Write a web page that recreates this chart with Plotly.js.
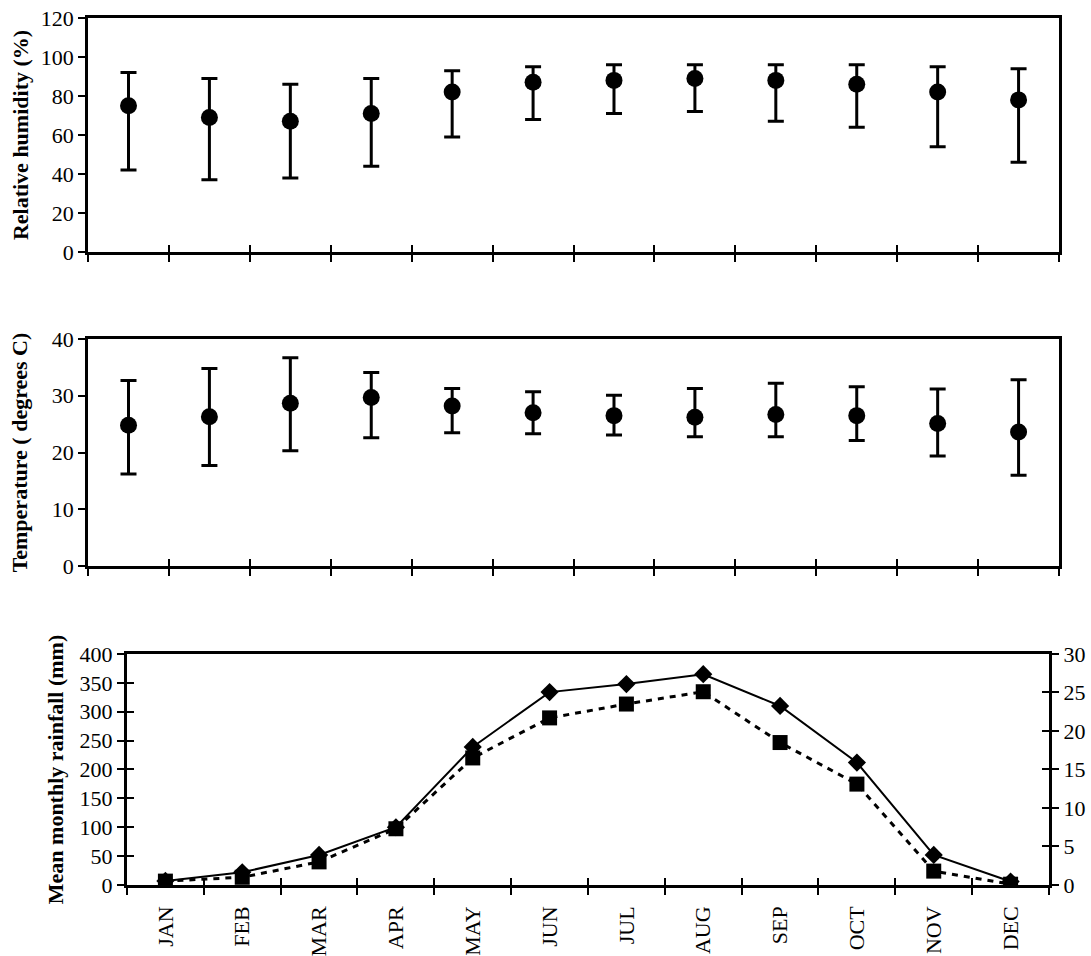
<!DOCTYPE html>
<html>
<head>
<meta charset="utf-8">
<script src="https://cdn.plot.ly/plotly-3.0.1.min.js"></script>
<style>
  html, body { margin: 0; padding: 0; background: #ffffff; }
  #chart { width: 1091px; height: 956px; }
</style>
</head>
<body>
<div id="chart"></div>
<script>
// Monthly climate summary: humidity, temperature, rainfall
const months = ['JAN', 'FEB', 'MAR', 'APR', 'MAY', 'JUN', 'JUL', 'AUG', 'SEP', 'OCT', 'NOV', 'DEC'];

// Relative humidity (%): mean with monthly minimum and maximum
const humidityMean = [75, 69, 67, 71, 82, 87, 88, 89, 88, 86, 82, 78];
const humidityHigh = [92, 89, 86, 89, 93, 95, 96, 96, 96, 96, 95, 94];
const humidityLow  = [42, 37, 38, 44, 59, 68, 71, 72, 67, 64, 54, 46];

// Air temperature (degrees C): mean with monthly minimum and maximum
const tempMean = [24.8, 26.3, 28.7, 29.7, 28.2, 27.0, 26.5, 26.2, 26.7, 26.5, 25.1, 23.6];
const tempHigh = [32.7, 34.8, 36.7, 34.1, 31.3, 30.7, 30.1, 31.3, 32.2, 31.6, 31.2, 32.8];
const tempLow  = [16.2, 17.7, 20.3, 22.6, 23.5, 23.3, 23.1, 22.8, 22.8, 22.1, 19.4, 16.0];

// Mean monthly rainfall (mm, left axis) and rainy days (right axis)
const rainfall = [7, 22, 52, 100, 239, 334, 348, 365, 310, 212, 52, 6];
const rainDays = [0.5, 1.0, 3.0, 7.3, 16.5, 21.7, 23.5, 25.1, 18.5, 13.1, 1.8, 0.1];

const idx = months.map((_, i) => i);
const bounds = months.map((_, i) => i - 0.5).concat([months.length - 0.5]);
const xRange = [-0.5, months.length - 0.5];

const FONT = '"Liberation Serif", "Times New Roman", serif';
const tickFont = { family: FONT, size: 22, color: '#000' };
const titleFont = { family: FONT, size: 22, color: '#000', weight: 'bold' };

// empty traces so the tick-only companion axes get drawn
function axisHolder(xa, ya) {
  return { x: [], y: [], xaxis: xa, yaxis: ya, type: 'scatter', mode: 'markers', hoverinfo: 'skip', showlegend: false };
}

const traces = [
  {
    x: idx, y: humidityMean, xaxis: 'x', yaxis: 'y',
    type: 'scatter', mode: 'markers',
    marker: { symbol: 'circle', size: 17, color: '#000' },
    error_y: {
      type: 'data', symmetric: false,
      array: humidityHigh.map((v, i) => v - humidityMean[i]),
      arrayminus: humidityLow.map((v, i) => humidityMean[i] - v),
      color: '#000', thickness: 3, width: 8
    },
    hoverinfo: 'skip'
  },
  {
    x: idx, y: tempMean, xaxis: 'x2', yaxis: 'y2',
    type: 'scatter', mode: 'markers',
    marker: { symbol: 'circle', size: 17, color: '#000' },
    error_y: {
      type: 'data', symmetric: false,
      array: tempHigh.map((v, i) => v - tempMean[i]),
      arrayminus: tempLow.map((v, i) => tempMean[i] - v),
      color: '#000', thickness: 3, width: 8
    },
    hoverinfo: 'skip'
  },
  axisHolder('x4', 'y'),
  axisHolder('x5', 'y2'),
  axisHolder('x6', 'y3'),
  axisHolder('x7', 'y3'),
  axisHolder('x3', 'y5'),
  axisHolder('x3', 'y6'),
  {
    x: idx, y: rainfall, xaxis: 'x3', yaxis: 'y3',
    type: 'scatter', mode: 'lines+markers',
    line: { color: '#000', width: 2 },
    marker: { symbol: 'diamond', size: 14, color: '#000' },
    hoverinfo: 'skip'
  },
  {
    x: idx, y: rainDays, xaxis: 'x3', yaxis: 'y4',
    type: 'scatter', mode: 'lines+markers',
    line: { color: '#000', width: 3, dash: '6px,6px' },
    marker: { symbol: 'square', size: 15, color: '#000' },
    hoverinfo: 'skip'
  }
];

const baseX = {
  range: xRange, tickmode: 'array', tickvals: bounds,
  ticks: 'outside', ticklen: 7, tickwidth: 2, tickcolor: '#000',
  showticklabels: false, showgrid: false, zeroline: false,
  showline: true, linewidth: 3, linecolor: '#000', mirror: true,
  fixedrange: true
};
const innerX = {
  range: xRange, tickmode: 'array', tickvals: bounds,
  ticks: 'inside', ticklen: 7, tickwidth: 2, tickcolor: '#000',
  showticklabels: false, showgrid: false, zeroline: false, showline: false,
  fixedrange: true
};
const baseY = {
  ticks: 'outside', ticklen: 7, tickwidth: 2, tickcolor: '#000',
  tickfont: tickFont, showgrid: false, zeroline: false,
  showline: true, linewidth: 3, linecolor: '#000',
  fixedrange: true
};

const topDom = [0.0807, 0.9707];
const botDom = [0.1164, 0.9615];

const layout = {
  width: 1091, height: 956,
  margin: { l: 0, r: 0, t: 0, b: 0 },
  paper_bgcolor: '#fff', plot_bgcolor: 'rgba(0,0,0,0)',
  showlegend: false,
  font: { family: FONT, color: '#000' },

  // relative humidity panel
  xaxis: Object.assign({}, baseX, { domain: topDom, anchor: 'y' }),
  yaxis: Object.assign({}, baseY, {
    domain: [0.7364, 0.9812], anchor: 'x', range: [0, 120], dtick: 20, tick0: 0,
    mirror: true,
    title: { text: 'Relative humidity (%)', font: titleFont, standoff: 6 }
  }),
  xaxis4: Object.assign({}, innerX, { overlaying: 'x', anchor: 'y' }),

  // temperature panel
  xaxis2: Object.assign({}, baseX, { domain: topDom, anchor: 'y2' }),
  yaxis2: Object.assign({}, baseY, {
    domain: [0.4079, 0.6454], anchor: 'x2', range: [0, 40], dtick: 10, tick0: 0,
    mirror: true,
    title: { text: 'Temperature ( degrees C)', font: titleFont, standoff: 18 }
  }),
  xaxis5: Object.assign({}, innerX, { overlaying: 'x2', anchor: 'y2' }),

  // rainfall panel
  xaxis3: Object.assign({}, baseX, { domain: botDom, anchor: 'y3' }),
  xaxis6: Object.assign({}, innerX, { overlaying: 'x3', anchor: 'y3' }),
  xaxis7: {
    overlaying: 'x3', anchor: 'y3', range: xRange,
    tickmode: 'array', tickvals: idx, ticktext: months,
    ticks: '', ticklabelstandoff: 16, tickangle: -90, tickfont: tickFont,
    showgrid: false, zeroline: false, showline: false, fixedrange: true
  },
  yaxis3: Object.assign({}, baseY, {
    domain: [0.0743, 0.3159], anchor: 'x3', range: [0, 400], dtick: 50, tick0: 0,
    title: { text: 'Mean monthly rainfall (mm)', font: titleFont, standoff: 10 }
  }),
  yaxis5: {
    overlaying: 'y3', anchor: 'x3', side: 'left', range: [0, 400],
    dtick: 50, tick0: 0, ticks: 'inside', ticklen: 7, tickwidth: 2, tickcolor: '#000',
    showticklabels: false, showgrid: false, zeroline: false, showline: false, fixedrange: true
  },
  yaxis4: Object.assign({}, baseY, {
    overlaying: 'y3', anchor: 'x3', side: 'right', range: [0, 30], dtick: 5, tick0: 0
  }),
  yaxis6: {
    overlaying: 'y3', anchor: 'x3', side: 'right', range: [0, 30],
    dtick: 5, tick0: 0, ticks: 'inside', ticklen: 7, tickwidth: 2, tickcolor: '#000',
    showticklabels: false, showgrid: false, zeroline: false, showline: false, fixedrange: true
  }
};

Plotly.newPlot('chart', traces, layout, { displayModeBar: false, staticPlot: true });
</script>
</body>
</html>
